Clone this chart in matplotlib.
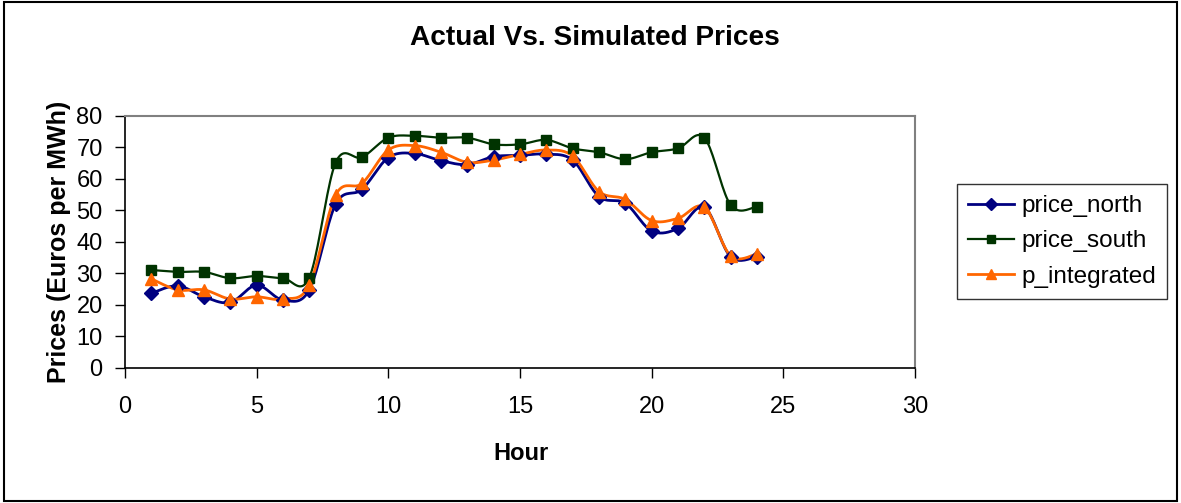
import matplotlib.pyplot as plt
import numpy as np
from matplotlib.patches import Rectangle

plt.rcParams['font.family'] = ['Liberation Sans', 'DejaVu Sans']

hours = list(range(1, 25))
price_north = [23.7, 26.1, 22.6, 20.8, 26.3, 21.6, 24.8, 52.0, 56.7, 66.8, 68.1, 65.8,
               64.6, 67.1, 67.5, 67.9, 66.0, 54.4, 52.3, 43.5, 44.3, 51.0, 35.3, 35.3]
price_south = [31.1, 30.5, 30.5, 28.5, 29.2, 28.5, 28.7, 65.2, 66.9, 73.1, 73.7, 73.1,
               73.1, 71.0, 71.0, 72.4, 69.7, 68.5, 66.3, 68.5, 69.7, 73.1, 51.7, 51.2]
p_integrated = [28.3, 24.8, 24.8, 21.9, 22.6, 21.9, 26.3, 54.9, 58.6, 69.2, 70.6, 68.5,
                65.3, 66.0, 67.8, 69.2, 67.3, 56.0, 53.5, 46.8, 47.5, 51.0, 35.6, 36.2]


def smooth(x, y, n=20):
    # cubic bezier through the points, tangents like a Catmull-Rom spline
    x = np.asarray(x, float)
    y = np.asarray(y, float)
    px = np.concatenate([[x[0]], x, [x[-1]]])
    py = np.concatenate([[y[0]], y, [y[-1]]])
    t = np.linspace(0, 1, n)[:, None]
    xs, ys = [], []
    for i in range(1, len(px) - 2):
        p0 = np.array([px[i], py[i]])
        p3 = np.array([px[i + 1], py[i + 1]])
        p1 = p0 + (np.array([px[i + 1], py[i + 1]]) - np.array([px[i - 1], py[i - 1]])) / 6
        p2 = p3 - (np.array([px[i + 2], py[i + 2]]) - np.array([px[i], py[i]])) / 6
        pts = ((1 - t) ** 3) * p0 + 3 * ((1 - t) ** 2) * t * p1 + 3 * (1 - t) * t ** 2 * p2 + t ** 3 * p3
        xs.append(pts[:, 0])
        ys.append(pts[:, 1])
    return np.concatenate(xs), np.concatenate(ys)


fig = plt.figure(figsize=(11.81, 5.03), dpi=100)
ax = fig.add_axes([0.1058, 0.2684, 0.669, 0.501])

series = [
    ('price_north', price_north, '#000080', 'D', 7, 2.0),
    ('price_south', price_south, '#003300', 's', 7, 1.6),
    ('p_integrated', p_integrated, '#FF6600', '^', 9, 2.0),
]
for name, vals, col, mk, ms, lw in series:
    sx, sy = smooth(hours, vals)
    ax.plot(sx, sy, color=col, lw=lw, zorder=2)
    ax.plot(hours, vals, ls='none', marker=mk, ms=ms, color=col, zorder=3)
    ax.plot([], [], color=col, lw=lw, marker=mk, ms=ms * 0.85, label=name)

ax.set_xlim(0, 30)
ax.set_ylim(0, 80)
ax.set_xticks(range(0, 31, 5))
ax.set_yticks(range(0, 81, 10))
ax.tick_params(axis='both', direction='out', length=7, width=1, labelsize=17, pad=9)
ax.tick_params(axis='x', pad=13)
for s in ['top', 'right']:
    ax.spines[s].set_color('#808080')
    ax.spines[s].set_linewidth(1.5)
for s in ['left', 'bottom']:
    ax.spines[s].set_color('black')
    ax.spines[s].set_linewidth(1.2)

fig.text(0.504, 0.924, 'Actual Vs. Simulated Prices', ha='center', va='center',
         fontsize=20.2, fontweight='bold')
fig.text(0.441, 0.099, 'Hour', ha='center', va='center', fontsize=17, fontweight='bold')
fig.text(0.050, 0.519, 'Prices (Euros per MWh)', ha='center', va='center',
         rotation=90, fontsize=18, fontweight='bold')

leg = fig.legend(loc='center left', bbox_to_anchor=(0.810, 0.52), fontsize=17.5,
                 frameon=True, fancybox=False, handlelength=1.9, labelspacing=0.55,
                 borderpad=0.45, handletextpad=0.3, borderaxespad=0)
leg.get_frame().set_edgecolor('black')
leg.get_frame().set_linewidth(1.0)

fig.patches.append(Rectangle((0.003, 0.004), 0.994, 0.992, transform=fig.transFigure,
                             fill=False, edgecolor='black', lw=1.5))

plt.savefig('out.png', dpi=100)
